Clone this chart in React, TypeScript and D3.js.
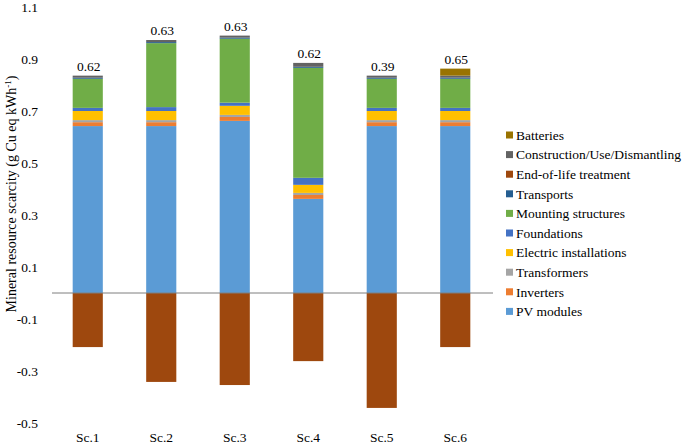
import React from "react";
import * as d3 from "d3";

const scenarios = ["Sc.1", "Sc.2", "Sc.3", "Sc.4", "Sc.5", "Sc.6"];
const pvModules = [0.642, 0.642, 0.662, 0.362, 0.642, 0.642];
const inverters = [0.015, 0.015, 0.015, 0.015, 0.015, 0.015];
const transformers = [0.008, 0.008, 0.008, 0.008, 0.008, 0.008];
const electricInstallations = [0.035, 0.035, 0.035, 0.031, 0.035, 0.035];
const foundations = [0.012, 0.015, 0.012, 0.027, 0.012, 0.012];
const mountingStructures = [0.112, 0.246, 0.246, 0.423, 0.112, 0.112];
const transports = [0.004, 0.004, 0.004, 0.004, 0.004, 0.004];
const construction = [0.008, 0.008, 0.008, 0.015, 0.008, 0.008];
const batteries = [0, 0, 0, 0, 0, 0.027];
const endOfLife = [-0.208, -0.342, -0.354, -0.262, -0.442, -0.208];
const netLabels = ["0.62", "0.63", "0.63", "0.62", "0.39", "0.65"];
const yTicks = [-0.5, -0.3, -0.1, 0.1, 0.3, 0.5, 0.7, 0.9, 1.1];

const series = [
  { key: "PV modules", values: pvModules, color: "#5B9BD5" },
  { key: "Inverters", values: inverters, color: "#ED7D31" },
  { key: "Transformers", values: transformers, color: "#A5A5A5" },
  { key: "Electric installations", values: electricInstallations, color: "#FFC000" },
  { key: "Foundations", values: foundations, color: "#4472C4" },
  { key: "Mounting structures", values: mountingStructures, color: "#70AD47" },
  { key: "Transports", values: transports, color: "#255E91" },
  { key: "Construction/Use/Dismantling", values: construction, color: "#636363" },
  { key: "Batteries", values: batteries, color: "#997300" },
  { key: "End-of-life treatment", values: endOfLife, color: "#9E480E" },
];

const legendOrder = [
  "Batteries",
  "Construction/Use/Dismantling",
  "End-of-life treatment",
  "Transports",
  "Mounting structures",
  "Foundations",
  "Electric installations",
  "Transformers",
  "Inverters",
  "PV modules",
];

const FONT = "Liberation Serif, DejaVu Serif, serif";

export default function App() {
  const W = 685, H = 446;
  const ts = { fontFamily: FONT, fontSize: "13.5px" } as React.CSSProperties;
  const y = d3.scaleLinear().domain([-0.5, 1.1]).range([423, 7]);
  const x = d3.scaleBand<string>().domain(scenarios).range([51, 492]).paddingInner(0.59).paddingOuter(0.295);

  const rows = scenarios.map((s, i) => {
    const r: any = { scenario: s };
    series.forEach((se) => (r[se.key] = se.values[i]));
    return r;
  });
  const stacked = d3
    .stack<any>()
    .keys(series.map((s) => s.key))
    .offset(d3.stackOffsetDiverging)(rows);

  const colorOf = (k: string) => series.find((s) => s.key === k)!.color;
  const topOf = scenarios.map((_, i) => d3.max(stacked, (layer) => layer[i][1]) as number);

  return (
    <svg width={W} height={H} style={{ position: "absolute", left: 0, top: 0, fontFamily: FONT }}>
      <rect width={W} height={H} fill="white" />
      {stacked.map((layer) => (
        <g key={layer.key} fill={colorOf(layer.key)}>
          {layer.map((d, i) => {
            const y0 = y(d[0]), y1 = y(d[1]);
            const h = Math.abs(y0 - y1);
            if (h <= 0) return null;
            return (
              <rect key={i} x={x(scenarios[i])} width={x.bandwidth()} y={Math.min(y0, y1)} height={h} />
            );
          })}
        </g>
      ))}
      <line x1={52} x2={493} y1={y(0)} y2={y(0)} stroke="#7f7f7f" strokeWidth={1} />
      {scenarios.map((s, i) => (
        <text key={s} style={ts} x={(x(s) as number) + x.bandwidth() / 2 + 1} y={y(topOf[i]) - 5} textAnchor="middle" fill="#000">
          {netLabels[i]}
        </text>
      ))}
      {scenarios.map((s) => (
        <text key={s} style={ts} x={(x(s) as number) + x.bandwidth() / 2} y={442} textAnchor="middle" fill="#000">
          {s}
        </text>
      ))}
      {yTicks.map((t) => (
        <text key={t} style={ts} x={38} y={y(t)} dy="0.35em" textAnchor="end" fill="#000">
          {t.toFixed(1)}
        </text>
      ))}
      <text style={{ fontFamily: FONT, fontSize: "14px" }} transform={`translate(11,194) rotate(-90)`} textAnchor="middle" dy="0.35em" fill="#000">
        Mineral resource scarcity (g Cu eq kWh
        <tspan dy="-5" style={{ fontSize: "9px" }}>-1</tspan>
        <tspan dy="5">)</tspan>
      </text>
      {legendOrder.map((k, i) => {
        const ly = 135 + i * 19.6;
        return (
          <g key={k}>
            <rect x={506} y={ly - 3.5} width={7} height={7} fill={colorOf(k)} />
            <text style={ts} x={516} y={ly} dy="0.35em" fill="#000">
              {k}
            </text>
          </g>
        );
      })}
    </svg>
  );
}
